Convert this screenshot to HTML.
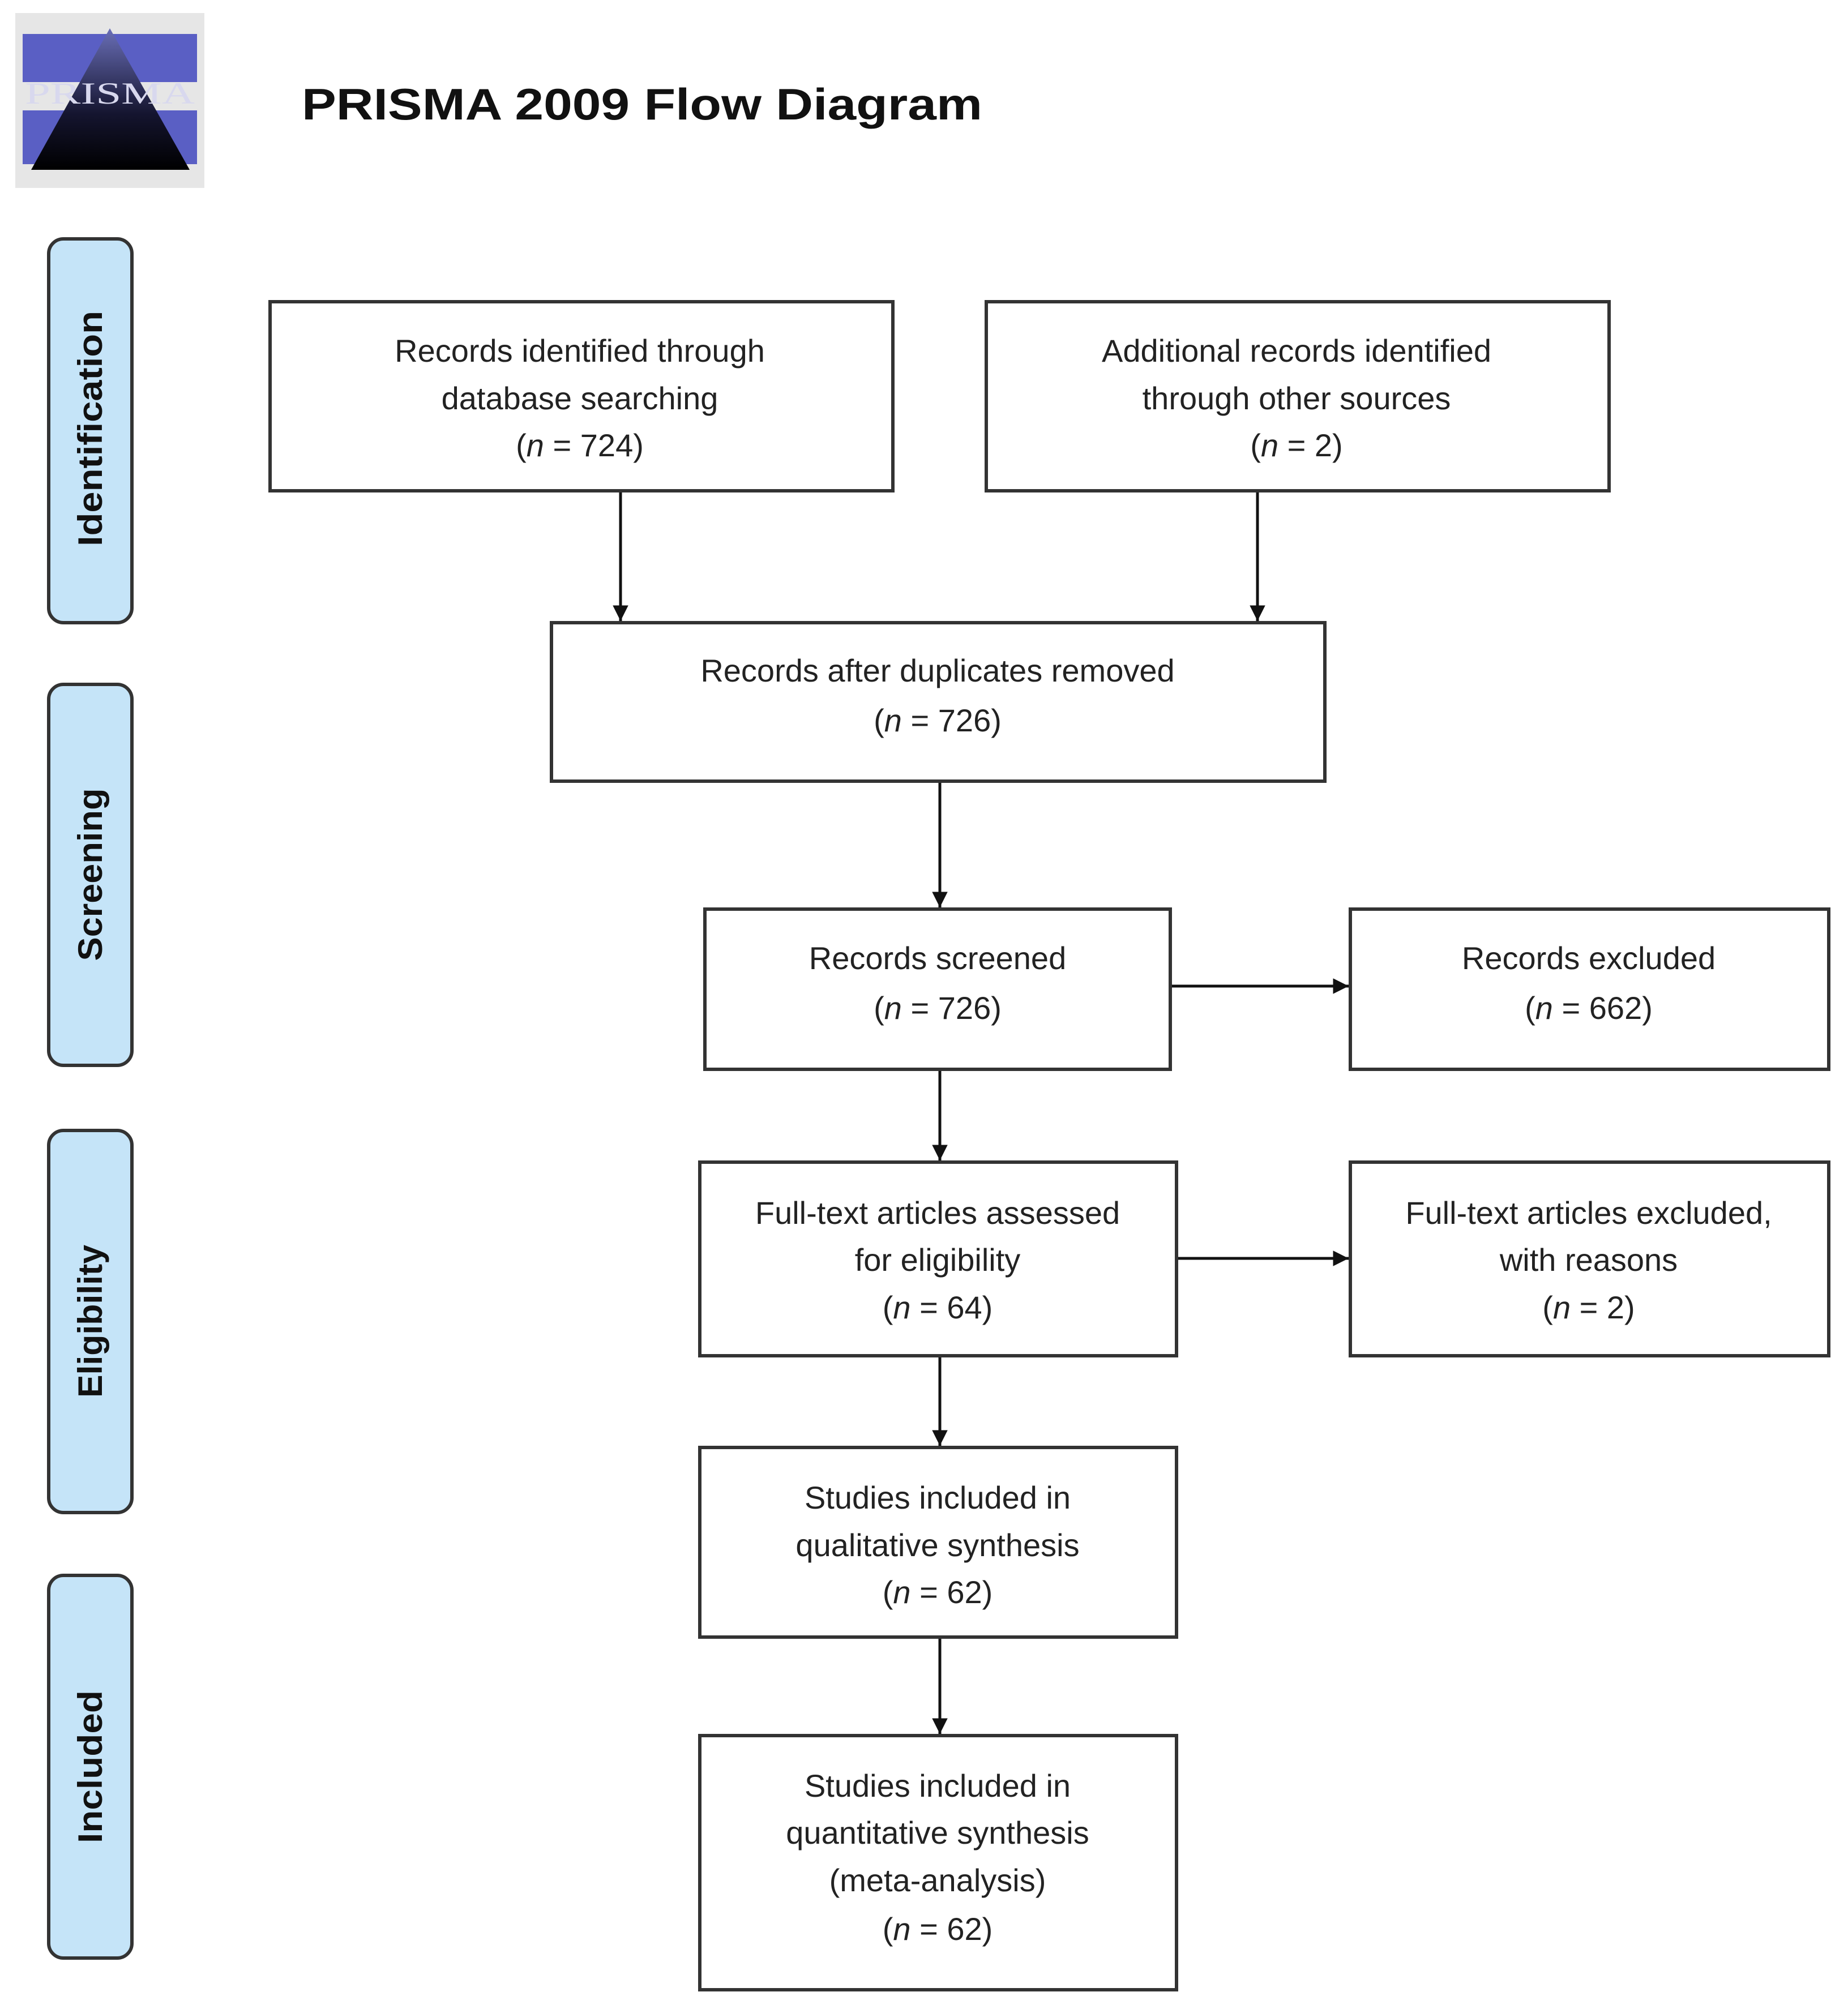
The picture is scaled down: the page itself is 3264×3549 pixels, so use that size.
<!DOCTYPE html>
<html><head><meta charset="utf-8"><style>
html,body{margin:0;padding:0;background:#fff;}
svg{display:block;}
.t{font-family:"Liberation Sans",sans-serif;font-size:56px;fill:#222;text-anchor:middle;}
.side{font-family:"Liberation Sans",sans-serif;font-size:60px;font-weight:bold;fill:#111;text-anchor:middle;}
</style></head><body>
<svg width="3264" height="3549" viewBox="0 0 3264 3549" xmlns="http://www.w3.org/2000/svg">
<defs>
<linearGradient id="tri" x1="0" y1="0" x2="0" y2="1">
<stop offset="0" stop-color="#6a6fb8"/><stop offset="0.6" stop-color="#151530"/><stop offset="1" stop-color="#000"/>
</linearGradient>
<marker id="ah" viewBox="0 0 10 10" refX="10" refY="5" markerWidth="5.5" markerHeight="5.5" orient="auto" markerUnits="strokeWidth">
<path d="M0,0 L10,5 L0,10 z" fill="#111"/></marker>
</defs>
<!-- logo -->
<rect x="27" y="23" width="334" height="309" fill="#e6e6e6"/>
<rect x="40" y="60" width="308" height="85" fill="#5a5fc4"/>
<rect x="40" y="195" width="308" height="95" fill="#5a5fc4"/>
<polygon points="194,50 335,300 55,300" fill="url(#tri)"/>
<text x="194" y="183" font-family="Liberation Serif,serif" font-size="54" fill="#d8d8ee" text-anchor="middle" textLength="300" lengthAdjust="spacingAndGlyphs">PRISMA</text>
<!-- title -->
<text x="533" y="211" font-family="Liberation Sans,sans-serif" font-weight="bold" font-size="78" fill="#111" textLength="1202" lengthAdjust="spacingAndGlyphs">PRISMA 2009 Flow Diagram</text>
<!-- side tabs -->
<g fill="#c5e4f8" stroke="#333" stroke-width="6">
<rect x="86" y="422" width="147" height="678" rx="26"/>
<rect x="86" y="1209" width="147" height="673" rx="26"/>
<rect x="86" y="1997" width="147" height="675" rx="26"/>
<rect x="86" y="2783" width="147" height="676" rx="26"/>
</g>
<text class="side" transform="translate(180,757) rotate(-90)" textLength="416" lengthAdjust="spacingAndGlyphs">Identification</text>
<text class="side" transform="translate(180,1545) rotate(-90)" textLength="305" lengthAdjust="spacingAndGlyphs">Screening</text>
<text class="side" transform="translate(180,2334) rotate(-90)" textLength="270" lengthAdjust="spacingAndGlyphs">Eligibility</text>
<text class="side" transform="translate(180,3121) rotate(-90)" textLength="270" lengthAdjust="spacingAndGlyphs">Included</text>
<!-- boxes -->
<g fill="#fff" stroke="#333" stroke-width="6">
<rect x="477" y="533" width="1100" height="334"/>
<rect x="1742" y="533" width="1100" height="334"/>
<rect x="974" y="1100" width="1366" height="280"/>
<rect x="1245" y="1606" width="822" height="283"/>
<rect x="2385" y="1606" width="845" height="283"/>
<rect x="1236" y="2053" width="842" height="342"/>
<rect x="2385" y="2053" width="845" height="342"/>
<rect x="1236" y="2557" width="842" height="335"/>
<rect x="1236" y="3066" width="842" height="449"/>
</g>
<!-- arrows -->
<g stroke="#111" stroke-width="5" fill="none" marker-end="url(#ah)">
<line x1="1096" y1="870" x2="1096" y2="1097"/>
<line x1="2221" y1="870" x2="2221" y2="1097"/>
<line x1="1660" y1="1383" x2="1660" y2="1603"/>
<line x1="2070" y1="1742" x2="2382" y2="1742"/>
<line x1="1660" y1="1892" x2="1660" y2="2050"/>
<line x1="2081" y1="2223" x2="2382" y2="2223"/>
<line x1="1660" y1="2398" x2="1660" y2="2554"/>
<line x1="1660" y1="2895" x2="1660" y2="3063"/>
</g>
<!-- texts -->
<text class="t" x="1024" y="639">Records identified through</text>
<text class="t" x="1024" y="723">database searching</text>
<text class="t" x="1024" y="806">(<tspan font-style="italic">n</tspan> = 724)</text>
<text class="t" x="2290" y="639">Additional records identified</text>
<text class="t" x="2290" y="723">through other sources</text>
<text class="t" x="2290" y="806">(<tspan font-style="italic">n</tspan> = 2)</text>
<text class="t" x="1656" y="1204">Records after duplicates removed</text>
<text class="t" x="1656" y="1292">(<tspan font-style="italic">n</tspan> = 726)</text>
<text class="t" x="1656" y="1712">Records screened</text>
<text class="t" x="1656" y="1800">(<tspan font-style="italic">n</tspan> = 726)</text>
<text class="t" x="2806" y="1712">Records excluded</text>
<text class="t" x="2806" y="1800">(<tspan font-style="italic">n</tspan> = 662)</text>
<text class="t" x="1656" y="2162">Full-text articles assessed</text>
<text class="t" x="1656" y="2245">for eligibility</text>
<text class="t" x="1656" y="2329">(<tspan font-style="italic">n</tspan> = 64)</text>
<text class="t" x="2806" y="2162">Full-text articles excluded,</text>
<text class="t" x="2806" y="2245">with reasons</text>
<text class="t" x="2806" y="2329">(<tspan font-style="italic">n</tspan> = 2)</text>
<text class="t" x="1656" y="2665">Studies included in</text>
<text class="t" x="1656" y="2749">qualitative synthesis</text>
<text class="t" x="1656" y="2832">(<tspan font-style="italic">n</tspan> = 62)</text>
<text class="t" x="1656" y="3174">Studies included in</text>
<text class="t" x="1656" y="3257">quantitative synthesis</text>
<text class="t" x="1656" y="3341">(meta-analysis)</text>
<text class="t" x="1656" y="3427">(<tspan font-style="italic">n</tspan> = 62)</text>
</svg>
</body></html>
